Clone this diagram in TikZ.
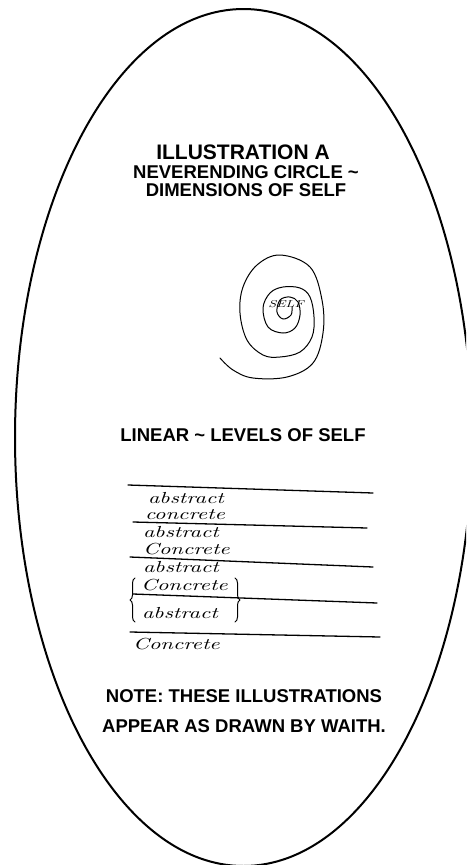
\documentclass[tikz,border=0pt]{standalone}
\usepackage{fontspec}
\setsansfont{Liberation Sans}
\newfontfamily\handfont{lmroman10-italic.otf}[FakeStretch=1.4]
\usetikzlibrary{decorations.pathreplacing}

\begin{document}
\begin{tikzpicture}[
  x=1pt, y=-1pt,
  every node/.style = {inner sep=0pt, outer sep=0pt},
  %-- text styles --------------------------------------------------------
  heading/.style = {font=\sffamily\bfseries\fontsize{21}{24}\selectfont, align=center},
  caption/.style = {font=\sffamily\bfseries\fontsize{18.5}{18}\selectfont, align=center},
  hand/.style    = {font=\handfont\fontsize{16}{16}\selectfont, anchor=base west},
  tiny/.style    = {font=\handfont\fontsize{10}{10}\selectfont},
  %-- line styles --------------------------------------------------------
  outline/.style = {line width=2pt},
  pen/.style     = {line width=1pt, line cap=round, line join=round},
  rule/.style    = {line width=1.3pt, line cap=round},
  curly/.style   = {pen, decorate, decoration={brace, amplitude=5pt}},
]
\useasboundingbox (0,0) rectangle (466,865);
\clip (0,0) rectangle (466,865);

% ── Outer oval ───────────────────────────────────────────────────────────────
\draw[outline] (243.5,437.5) ellipse [x radius=228.5, y radius=428.5];

% ── Headings ─────────────────────────────────────────────────────────────────
\node[heading] (title) at (243,152) {ILLUSTRATION A};
\node[caption] (circle) at (246,181) {NEVERENDING CIRCLE \char`~\\DIMENSIONS OF SELF};

% ── Spiral: neverending circle ───────────────────────────────────────────────
\draw[pen] plot[smooth, tension=0.6] coordinates {
  (220,358) (233,370) (253,378) (287,377) (313,363) (323,333) (322,300)
  (310,267) (280,255) (257,265) (243,287) (240,313) (247,340) (263,355)
  (280,357) (300,352) (312,337) (314,317) (310,297) (300,288) (283,287)
  (270,293) (263,308) (268,327) (283,333) (295,328) (300,315) (298,302)
  (290,297) (280,300) (277,312) (283,319) (291,315) (292,307)};
\node[tiny] (self) at (286,304) {SELF};

% ── Linear levels ────────────────────────────────────────────────────────────
\node[caption] (linear) at (243,435) {LINEAR \char`~\ LEVELS OF SELF};

\draw[rule] (128,485) -- (373,493);
\draw[rule] (133,522) -- (367,528);
\draw[rule] (130,557) -- (373,567);
\draw[rule] (133,594) -- (377,603);
\draw[rule] (130,632) -- (380,637);

\node[hand] (abs1) at (148,503) {abstract};
\node[hand] (con1) at (145,519) {concrete};
\node[hand] (abs2) at (143,537) {abstract};
\node[hand] (con2) at (143,554) {Concrete};
\node[hand] (abs3) at (143,572) {abstract};
\node[hand] (con3) at (141,590) {Concrete};
\node[hand] (abs4) at (142,618) {abstract};
\node[hand] (con4) at (133,649) {Concrete};

\coordinate (lbtop) at (135,578);
\coordinate (lbbot) at (135,622);
\coordinate (rbtop) at (235,578);
\coordinate (rbbot) at (235,622);
\draw[curly] (lbbot) -- (lbtop);
\draw[curly] (rbtop) -- (rbbot);

% ── Note ─────────────────────────────────────────────────────────────────────
\node[caption, font=\sffamily\bfseries\fontsize{18.5}{30}\selectfont]
  (note) at (244,711) {NOTE: THESE ILLUSTRATIONS\\APPEAR AS DRAWN BY WAITH.};

\end{tikzpicture}
\end{document}
